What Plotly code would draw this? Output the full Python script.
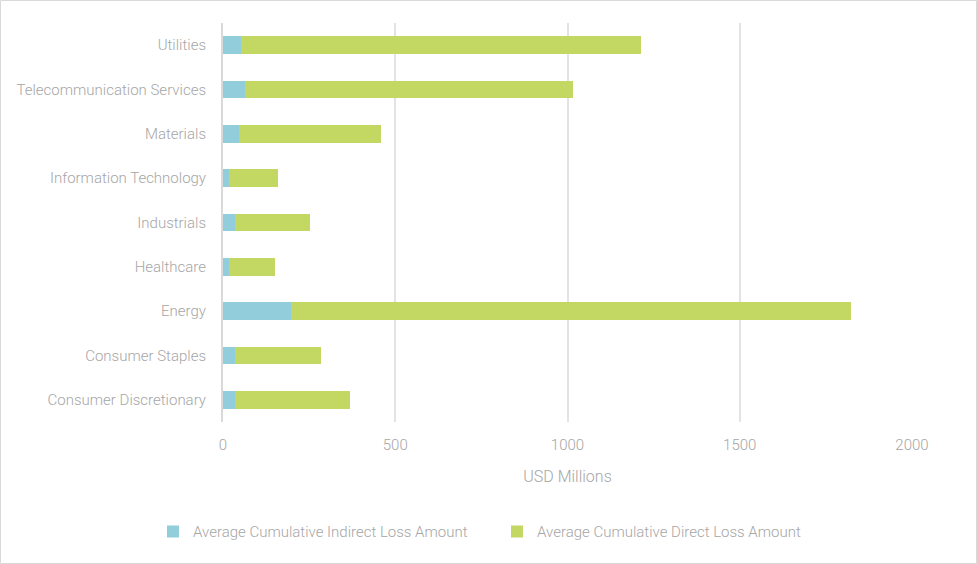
import plotly.graph_objects as go

categories = ["Consumer Discretionary", "Consumer Staples", "Energy", "Healthcare",
              "Industrials", "Information Technology", "Materials",
              "Telecommunication Services", "Utilities"]
indirect = [35, 35, 197, 17, 35, 17, 46, 64, 52]
direct = [334, 249, 1626, 134, 217, 143, 412, 952, 1161]

series_names = ["Average Cumulative Indirect Loss Amount", "Average Cumulative Direct Loss Amount"]
colors = ["#92CDDC", "#C3D862"]

FONT = "Roboto, sans-serif"
TXT = "#A6A6A6"

W, H = 977, 564
ml, mr, mt, mb = 223, 65, 23, 142

fig = go.Figure()
fig.add_trace(go.Bar(y=categories, x=indirect, orientation="h", name=series_names[0],
                     marker=dict(color=colors[0], line=dict(width=0)),
                     legend="legend", showlegend=True))
fig.add_trace(go.Bar(y=categories, x=direct, orientation="h", name=series_names[1],
                     marker=dict(color=colors[1], line=dict(width=0)),
                     legend="legend2", showlegend=True))

pw = W - ml - mr
ph = H - mt - mb
fig.add_shape(type="rect", xref="paper", yref="paper",
              x0=-(ml - 0.5) / pw, x1=1 + (mr - 0.5) / pw,
              y0=-(mb - 0.5) / ph, y1=1 + (mt - 0.5) / ph,
              line=dict(color="#D9D9D9", width=1), layer="below")

leg_common = dict(orientation="h", xref="container", xanchor="left",
                  y=-0.275, yanchor="middle", bgcolor="rgba(0,0,0,0)", visible=True,
                  font=dict(size=15, color=TXT, weight=300), itemwidth=30)

fig.update_layout(
    width=W, height=H, barmode="stack", bargap=0.6, showlegend=True,
    margin=dict(l=ml, r=mr, t=mt, b=mb, pad=0, autoexpand=False),
    plot_bgcolor="white", paper_bgcolor="white",
    font=dict(family=FONT, size=15, color=TXT, weight=300),
    xaxis=dict(range=[0, 2000], tickvals=[0, 500, 1000, 1500, 2000],
               showgrid=True, gridcolor="#E3E3E3", gridwidth=1.5, zeroline=False,
               showline=False, ticks="", automargin=False, ticklabelstandoff=12,
               tickfont=dict(size=15, color=TXT, weight=300),
               title=dict(text="USD Millions", font=dict(size=16, color=TXT, weight=300), standoff=17)),
    yaxis=dict(showgrid=False, showline=True, linecolor="#D9D9D9", linewidth=2,
               ticks="", automargin=False, ticklabelstandoff=12,
               tickfont=dict(size=15, color=TXT, weight=300)),
    legend=dict(x=0.1566, **leg_common),
    legend2=dict(x=0.5087, **leg_common),
)
fig.write_html("out.html", config={"displayModeBar": False},
               post_script="document.body.style.margin='0';")
